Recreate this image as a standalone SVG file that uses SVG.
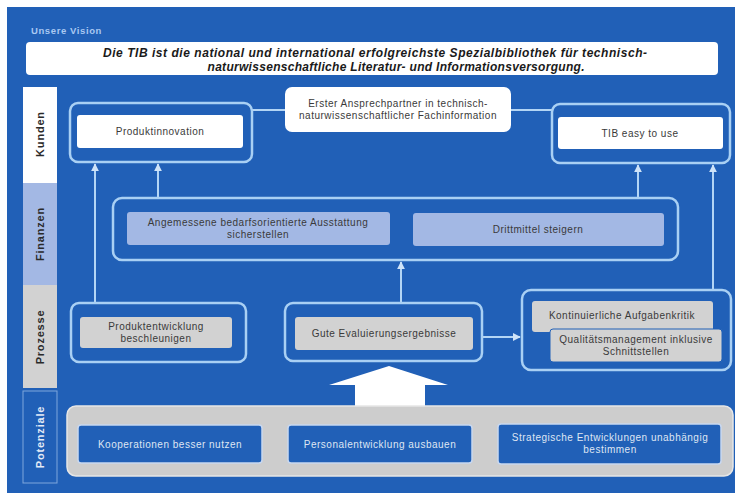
<svg xmlns="http://www.w3.org/2000/svg" width="737" height="495" viewBox="0 0 737 495">
<defs>
<style>
.bg{fill:#2160b7}
.grp{fill:none;stroke:#a9d0f4;stroke-width:2.5}
.wbox{fill:#ffffff}
.lav{fill:#a3b8e4}
.gry{fill:#d2d2d2}
.bbox{fill:#2160b7;stroke:#c8d8f0;stroke-width:1.5}
.t{font-family:"Liberation Sans",Arial,sans-serif;font-size:10px;letter-spacing:0.5px;fill:#3a3a3a;text-anchor:middle}
.tl{font-family:"Liberation Sans",Arial,sans-serif;font-size:10px;letter-spacing:0.5px;fill:#dfe6f3;text-anchor:middle}
.side{font-family:"Liberation Sans",Arial,sans-serif;font-size:11px;letter-spacing:0.8px;font-weight:bold;fill:#2a2a2a;text-anchor:middle}
.vis{font-family:"Liberation Sans",Arial,sans-serif;font-size:12px;font-weight:bold;font-style:italic;fill:#1a1a1a;text-anchor:middle}
.con{fill:none;stroke:#b3d5f5;stroke-width:2}
</style>
<marker id="ah" viewBox="0 0 10 10" refX="9" refY="5" markerWidth="4" markerHeight="4" orient="auto">
<path d="M0,0 L10,5 L0,10 z" fill="#cfe3f8"/>
</marker>
</defs>
<rect x="0" y="0" width="737" height="495" fill="#ffffff"/>
<rect class="bg" x="7" y="7" width="728" height="486"/>

<g id="vision">
<text x="31" y="34" font-family="Liberation Sans,Arial,sans-serif" font-size="9.5" letter-spacing="0.6" font-weight="bold" fill="#a9c8f2">Unsere Vision</text>
<rect class="wbox" x="26" y="42" width="692" height="33" rx="4"/>
<text class="vis" x="375" y="57" textLength="544" lengthAdjust="spacing">Die TIB ist die national und international erfolgreichste Spezialbibliothek für technisch-</text>
<text class="vis" x="396" y="71" textLength="377" lengthAdjust="spacing">naturwissenschaftliche Literatur- und Informationsversorgung.</text>
</g>

<g id="sidebar">
<rect x="23" y="87" width="34" height="96" fill="#ffffff"/>
<rect x="23" y="183" width="34" height="102" fill="#a3b8e4"/>
<rect x="23" y="285" width="34" height="103" fill="#d2d2d2"/>
<rect x="23" y="391" width="34" height="92" fill="none" stroke="#7fa6dc" stroke-width="1"/>
<text class="side" transform="translate(44,134) rotate(-90)">Kunden</text>
<text class="side" transform="translate(44,234) rotate(-90)">Finanzen</text>
<text class="side" transform="translate(44,337) rotate(-90)">Prozesse</text>
<text class="side" style="fill:#e4ebf6" transform="translate(44,437) rotate(-90)">Potenziale</text>
</g>

<g id="connectors">
<line class="con" x1="252" y1="110" x2="285" y2="110"/>
<line class="con" x1="511" y1="110" x2="552" y2="110"/>
<line class="con" x1="95" y1="303" x2="95" y2="164" marker-end="url(#ah)"/>
<line class="con" x1="158" y1="198" x2="158" y2="164" marker-end="url(#ah)"/>
<line class="con" x1="638" y1="198" x2="638" y2="165" marker-end="url(#ah)"/>
<line class="con" x1="713" y1="290" x2="713" y2="165" marker-end="url(#ah)"/>
<line class="con" x1="401" y1="303" x2="401" y2="262" marker-end="url(#ah)"/>
<line class="con" x1="482" y1="337" x2="520" y2="337" marker-end="url(#ah)"/>
<polygon points="389,366 448,385 425,385 425,408 355,408 355,385 329,385" fill="#ffffff"/>
</g>

<g id="produktinnovation">
<rect class="grp" x="70" y="103" width="182" height="59" rx="8"/>
<rect class="wbox" x="77" y="115" width="166" height="33" rx="3"/>
<text class="t" x="160" y="135">Produktinnovation</text>
</g>

<g id="ansprechpartner">
<rect class="wbox" x="285" y="87" width="226" height="45" rx="7"/>
<text class="t" x="398" y="107">Erster Ansprechpartner in technisch-</text>
<text class="t" x="398" y="119">naturwissenschaftlicher Fachinformation</text>
</g>

<g id="tib-easy">
<rect class="grp" x="552" y="104" width="178" height="59" rx="8"/>
<rect class="wbox" x="558" y="117" width="165" height="32" rx="3"/>
<text class="t" x="640" y="137">TIB easy to use</text>
</g>

<g id="finanzen">
<rect class="grp" x="113" y="198" width="565" height="62" rx="9"/>
<rect class="lav" x="127" y="212" width="263" height="33" rx="3"/>
<text class="t" x="258" y="226">Angemessene bedarfsorientierte Ausstattung</text>
<text class="t" x="258" y="238">sicherstellen</text>
<rect class="lav" x="413" y="213" width="251" height="33" rx="3"/>
<text class="t" x="538" y="233">Drittmittel steigern</text>
</g>

<g id="produktentwicklung">
<rect class="grp" x="71" y="303" width="175" height="59" rx="8"/>
<rect class="gry" x="80" y="317" width="152" height="31" rx="3"/>
<text class="t" x="156" y="330">Produktentwicklung</text>
<text class="t" x="156" y="342">beschleunigen</text>
</g>

<g id="evaluierung">
<rect class="grp" x="285" y="303" width="197" height="58" rx="8"/>
<rect class="gry" x="295" y="317" width="178" height="33" rx="3"/>
<text class="t" x="384" y="337">Gute Evaluierungsergebnisse</text>
</g>

<g id="aufgabenkritik">
<rect class="grp" x="522" y="290" width="209" height="80" rx="9"/>
<rect class="gry" x="532" y="301" width="181" height="31" rx="3"/>
<text class="t" x="622" y="319">Kontinuierliche Aufgabenkritik</text>
<rect class="gry" x="550" y="329" width="172" height="33" rx="3" stroke="#2160b7" stroke-width="1"/>
<text class="t" x="636" y="343">Qualitätsmanagement inklusive</text>
<text class="t" x="636" y="355">Schnittstellen</text>
</g>

<g id="potenziale">
<rect x="67" y="406" width="666" height="70" rx="9" fill="#cdcdcd" stroke="#e6e6e6" stroke-width="1.5"/>
<rect class="bbox" x="78" y="425" width="184" height="38" rx="3"/>
<text class="tl" x="170" y="448">Kooperationen besser nutzen</text>
<rect class="bbox" x="288" y="425" width="184" height="38" rx="3"/>
<text class="tl" x="380" y="448">Personalentwicklung ausbauen</text>
<rect class="bbox" x="498" y="424" width="223" height="40" rx="3"/>
<text class="tl" x="610" y="441">Strategische Entwicklungen unabhängig</text>
<text class="tl" x="610" y="453">bestimmen</text>
</g>
</svg>
